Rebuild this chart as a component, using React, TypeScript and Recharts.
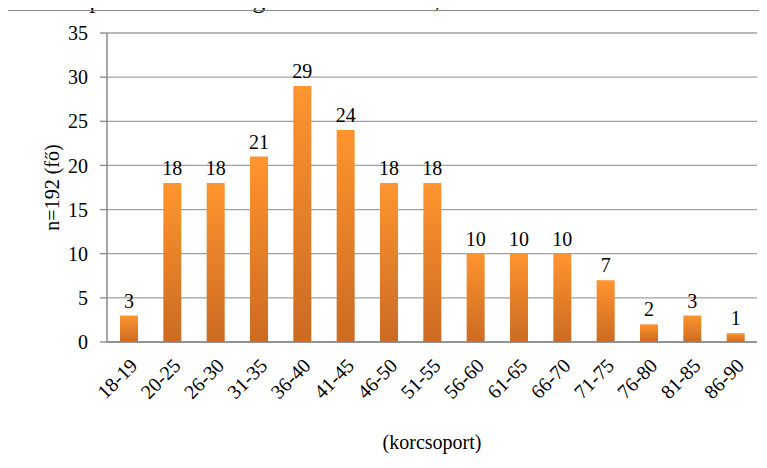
import React from 'react';
import { BarChart, Bar, XAxis, YAxis, CartesianGrid, LabelList } from 'recharts';

const korcsoportok = [
  '18-19', '20-25', '26-30', '31-35', '36-40', '41-45', '46-50', '51-55',
  '56-60', '61-65', '66-70', '71-75', '76-80', '81-85', '86-90',
];
const letszam = [3, 18, 18, 21, 29, 24, 18, 18, 10, 10, 10, 7, 2, 3, 1];
const yTicks = [0, 5, 10, 15, 20, 25, 30, 35];

const data = korcsoportok.map((name, i) => ({ name, fo: letszam[i] }));

const font = 'Liberation Serif';

const XTick = (props: any) => {
  const { x, y, payload } = props;
  return (
    <g transform={`translate(${x + 5},${y + 12})`}>
      <text
        x={0}
        y={0}
        dy={7}
        textAnchor="end"
        transform="rotate(-45)"
        fill="#000"
        style={{ fontSize: 20, fontFamily: font }}
      >
        {payload.value}
      </text>
    </g>
  );
};

const App = () => {
  return (
    <div style={{ position: 'relative', width: 767, height: 468, margin: -8, overflow: 'hidden', background: '#fff', fontFamily: font }}>
      <svg width={767} height={20} style={{ position: 'absolute', left: 0, top: 0 }}>
        <text x={-4} y={8} fill="#000" style={{ fontSize: 26, fontFamily: font }}>
          a Korcsoport szerinti megoszlása azoknak, akik ismerik a s
        </text>
      </svg>
      <div
        style={{
          position: 'absolute',
          left: 7,
          top: 10,
          width: 800,
          height: 500,
          border: '1px solid #8c8c8c',
          background: 'transparent',
        }}
      />
      <div style={{ position: 'absolute', left: 0, top: 0 }}>
        <BarChart
          width={767}
          height={468}
          data={data}
          margin={{ top: 33, right: 10, bottom: 0, left: 35 }}
          barCategoryGap={0}
          style={{ fontFamily: font }}
        >
          <defs>
            <linearGradient id="narancs" x1="0" y1="0" x2="0" y2="1">
              <stop offset="0%" stopColor="#ff952f" />
              <stop offset="100%" stopColor="#cb6a22" />
            </linearGradient>
          </defs>
          <CartesianGrid vertical={false} stroke="#a0a0a0" strokeWidth={1.3} />
          <XAxis
            dataKey="name"
            interval={0}
            tick={<XTick />}
            tickLine={false}
            axisLine={{ stroke: '#878787', strokeWidth: 1.5 }}
            height={126}
            label={{
              value: '(korcsoport)',
              position: 'insideBottom',
              offset: 19,
              fill: '#000',
              style: { fontSize: 20, fontFamily: font },
            }}
          />
          <YAxis
            domain={[0, 35]}
            ticks={yTicks}
            interval={0}
            width={72}
            tickSize={7}
            tickMargin={12}
            tick={{ fill: '#000', style: { fontSize: 20, fontFamily: font } }}
            tickLine={{ stroke: '#878787', strokeWidth: 1.3 }}
            axisLine={{ stroke: '#878787', strokeWidth: 1.5 }}
            label={{
              value: 'n=192 (fő)',
              angle: -90,
              position: 'insideLeft',
              offset: 17,
              fill: '#000',
              style: { textAnchor: 'middle', fontSize: 20, fontFamily: font },
            }}
          />
          <Bar dataKey="fo" fill="url(#narancs)" barSize={18} isAnimationActive={false}>
            <LabelList
              dataKey="fo"
              position="top"
              offset={8}
              fill="#000"
              style={{ fontSize: 20, fontFamily: font }}
            />
          </Bar>
        </BarChart>
      </div>
    </div>
  );
};

export default App;
